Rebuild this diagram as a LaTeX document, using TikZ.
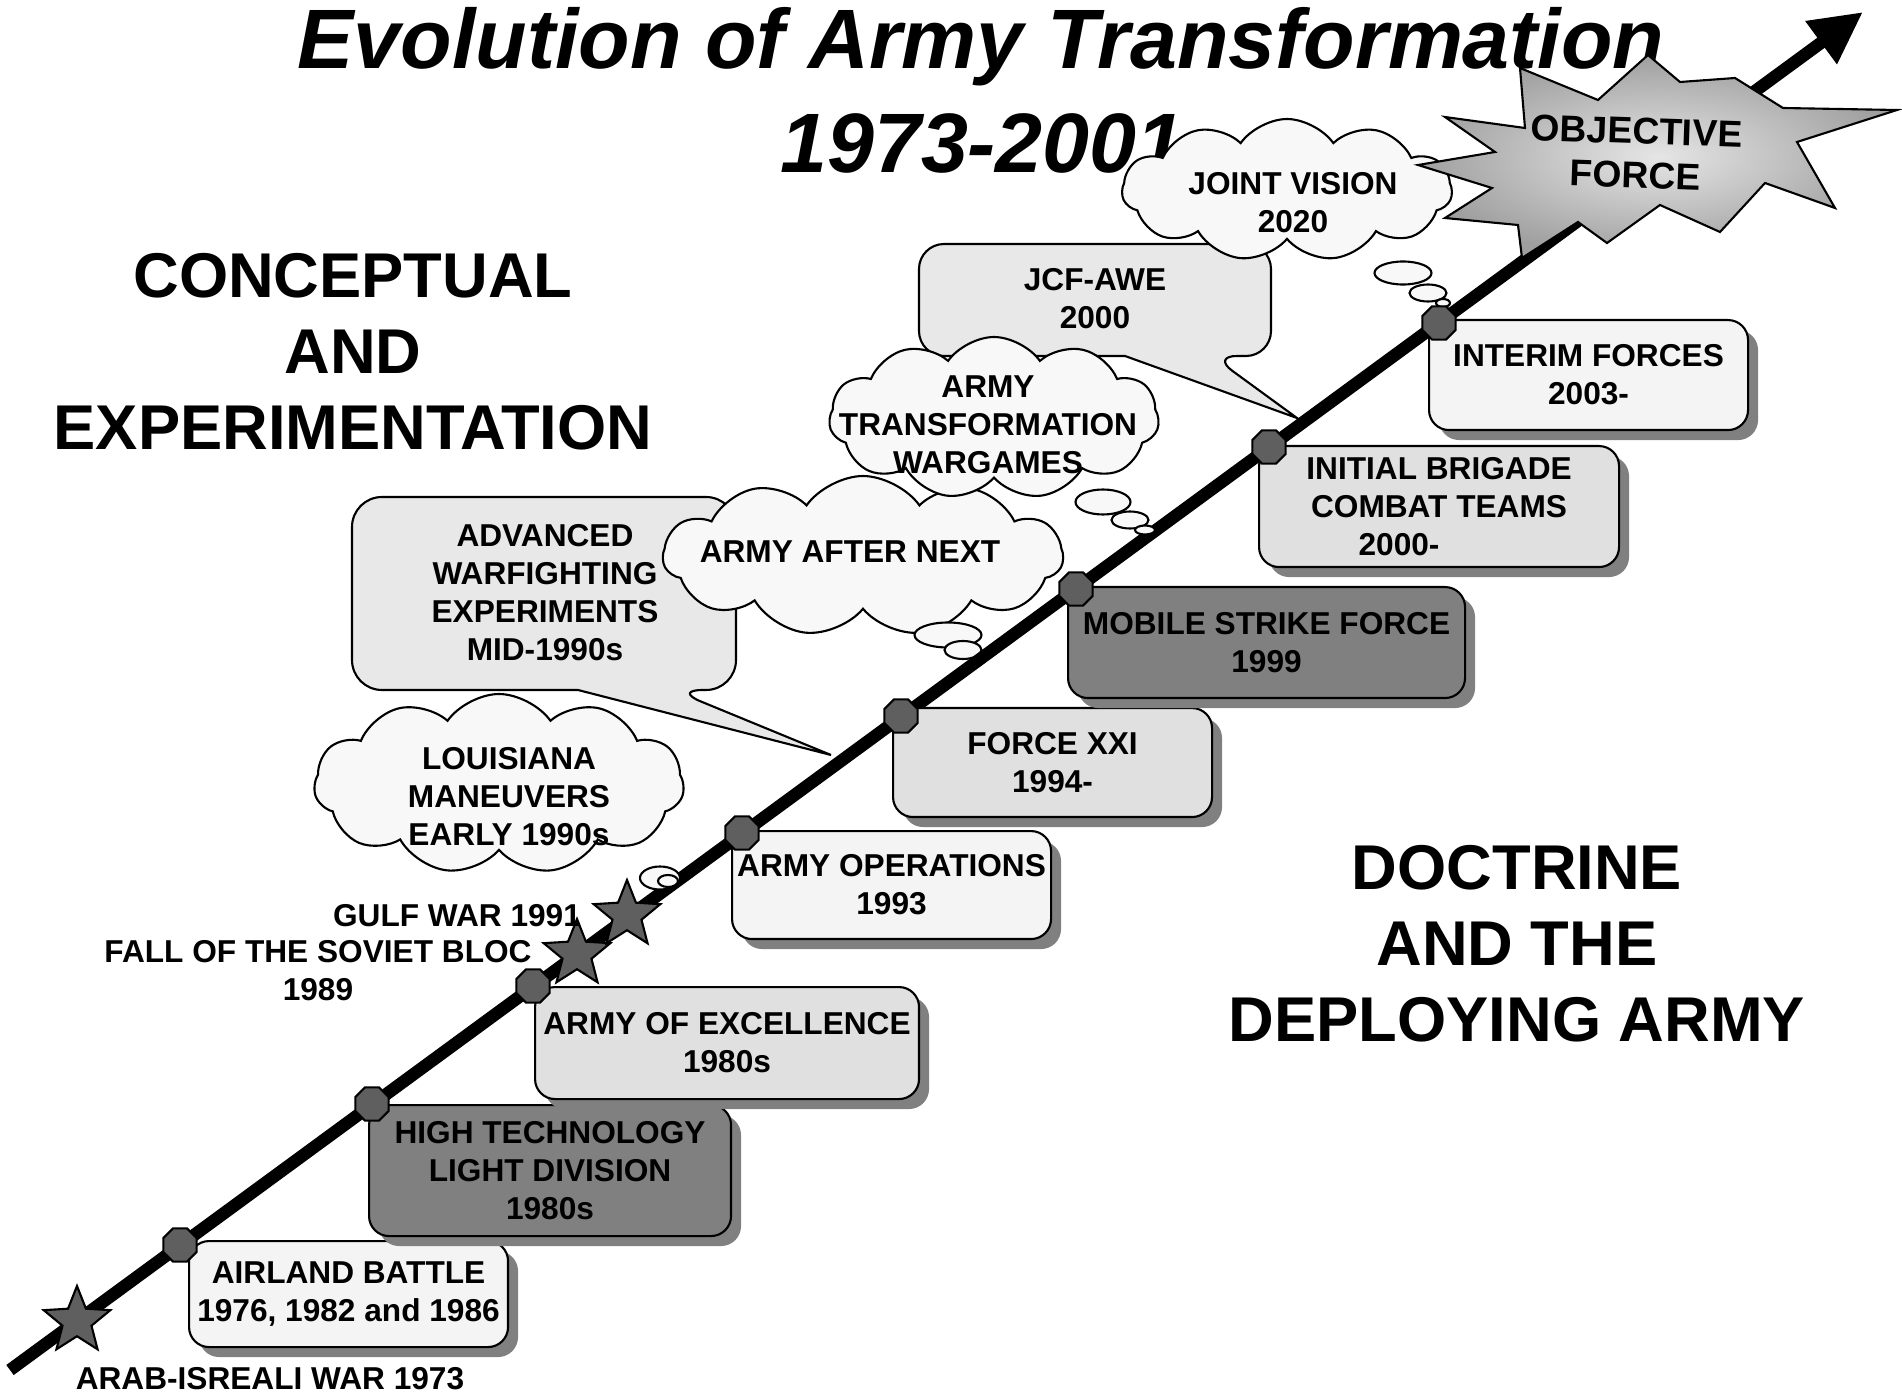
\documentclass[tikz,border=0pt]{standalone}
\usepackage{fontspec}
\setmainfont{Liberation Sans}
\usetikzlibrary{
  calc,shapes.symbols,shapes.geometric,shadows,
  arrows.meta
}
\definecolor{boxlight}{HTML}{F4F4F4}
\definecolor{boxmid}{HTML}{E0E0E0}
\definecolor{boxdark}{HTML}{808080}
\definecolor{shadowgray}{HTML}{808080}
\definecolor{cloudfill}{HTML}{F8F8F8}
\definecolor{calloutfill}{HTML}{E8E8E8}
\definecolor{markgray}{HTML}{5F5F5F}

\begin{document}
\begin{tikzpicture}[x=0.1mm,y=-0.1mm,
  eventbox/.style={draw=black,line width=0.6pt,rounded corners=2mm,anchor=north west,align=center,inner sep=0pt,
    font=\fontsize{9}{10.8}\selectfont\bfseries,
    drop shadow={shadow xshift=1mm,shadow yshift=-1mm,fill=shadowgray,opacity=1}},
  milestone/.style={draw=black,line width=0.6pt,fill=markgray,regular polygon,regular polygon sides=8,minimum size=3.6mm,inner sep=0pt},
  warstar/.style={draw=black,line width=0.6pt,fill=markgray,star,star points=5,star point ratio=2.3,minimum size=7mm,inner sep=0pt},
  thought/.style={draw=black,line width=0.6pt,fill=cloudfill,cloud,cloud puffs=11,cloud puff arc=110,cloud ignores aspect,inner sep=0pt},
  puff/.style={draw=black,line width=0.6pt,fill=cloudfill,ellipse,inner sep=0pt},
  callout/.style={draw=black,line width=0.6pt,fill=calloutfill},
  smalltext/.style={align=center,inner sep=0pt,font=\fontsize{9}{10.8}\selectfont\bfseries},
  bigtext/.style={align=center,inner sep=0pt,font=\fontsize{18}{21.6}\selectfont\bfseries},
  titletext/.style={anchor=base,inner sep=0pt,font=\fontsize{24}{28}\selectfont\bfseries\itshape}
]
\fill[white] (0,0) rectangle (1902,1396);
\useasboundingbox (0,0) rectangle (1902,1396);

\node[titletext] (title) at (981,69) {Evolution of Army Transformation};
\node[titletext] (years) at (982,173) {1973-2001};
\node[bigtext] (conceptual) at (353,352) {CONCEPTUAL\\AND\\EXPERIMENTATION};
\node[bigtext] (doctrine) at (1517,944) {DOCTRINE\\AND THE\\DEPLOYING ARMY};

\coordinate (advtip) at (831,755);
\coordinate (jcftip) at (1297,418);
\filldraw[callout] (352,600) [rounded corners=3mm] -- (352,497) -- (736,497) -- (736,690) -- (673,690) [sharp corners] -- (advtip) -- (578,690) [rounded corners=3mm] -- (352,690) -- cycle;
\node[smalltext] (advexp) at (545,593) {ADVANCED\\WARFIGHTING\\EXPERIMENTS\\MID-1990s};
\filldraw[callout] (919,300) [rounded corners=2.5mm] -- (919,244) -- (1271,244) -- (1271,356) -- (1212,356) [sharp corners] -- (jcftip) -- (1125,356) [rounded corners=2.5mm] -- (919,356) -- cycle;
\node[smalltext] (jcfawe) at (1095,299) {JCF-AWE\\2000};

\node[thought,minimum width=37mm,minimum height=18mm] (louisiana) at (499,784) {};
\node[smalltext] (louisianatext) at (509,797) {LOUISIANA\\MANEUVERS\\EARLY 1990s};
\node[thought,minimum width=40mm,minimum height=16mm] (aan) at (863,556) {};
\node[smalltext] (aantext) at (850,552) {ARMY AFTER NEXT};
\node[puff,minimum width=6.7mm,minimum height=2.5mm] (aanb1) at (948,635) {};
\node[puff,minimum width=3.7mm,minimum height=1.8mm] (aanb2) at (963,650) {};
\node[thought,minimum width=33mm,minimum height=16.2mm] (atw) at (994,418) {};
\node[smalltext] (atwtext) at (988,425) {ARMY\\TRANSFORMATION\\WARGAMES};
\node[thought,minimum width=33mm,minimum height=14.2mm] (jv) at (1287,190) {};
\node[smalltext] (jvtext) at (1293,203) {JOINT VISION\\2020};

\coordinate (lineStart) at (10,1370);
\coordinate (lineEnd) at (1863,12);
\draw[line width=1.25mm,-{Triangle[length=5.2mm,width=5mm]}] (lineStart) -- (lineEnd);

\node[puff,minimum width=4mm,minimum height=2.3mm] (loub1) at (660,878) {};
\node[puff,minimum width=2mm,minimum height=1.2mm] (loub2) at (668,881) {};
\node[puff,minimum width=5.5mm,minimum height=2.5mm] (atwb1) at (1103,502) {};
\node[puff,minimum width=3.7mm,minimum height=1.7mm] (atwb2) at (1130,520) {};
\node[puff,minimum width=2mm,minimum height=0.9mm] (atwb3) at (1145,530) {};
\node[puff,minimum width=5.7mm,minimum height=2.3mm] (jvb1) at (1403,273) {};
\node[puff,minimum width=3.7mm,minimum height=1.7mm] (jvb2) at (1428,293) {};
\node[puff,minimum width=1.4mm,minimum height=0.8mm] (jvb3) at (1443,303) {};

\node[eventbox,fill=boxlight,minimum width=31.9mm,minimum height=10.6mm] (airland) at (188,1240) {AIRLAND BATTLE\\1976, 1982 and 1986};
\node[eventbox,fill=boxdark,minimum width=36.2mm,minimum height=13.1mm] (hitech) at (368,1104) {HIGH TECHNOLOGY\\LIGHT DIVISION\\1980s};
\node[eventbox,fill=boxmid,minimum width=38.4mm,minimum height=11.2mm] (aoe) at (534,986) {ARMY OF EXCELLENCE\\1980s};
\node[eventbox,fill=boxlight,minimum width=31.9mm,minimum height=10.8mm] (armyops) at (731,830) {ARMY OPERATIONS\\1993};
\node[eventbox,fill=boxmid,minimum width=31.9mm,minimum height=10.9mm] (forcexxi) at (892,707) {FORCE XXI\\1994-};
\node[eventbox,fill=boxdark,minimum width=39.7mm,minimum height=11.1mm] (mobile) at (1067,586) {MOBILE STRIKE FORCE\\1999};
\node[eventbox,fill=boxmid,minimum width=36mm,minimum height=12.1mm] (ibct) at (1258,445) {INITIAL BRIGADE\\COMBAT TEAMS\\2000-\hspace*{8mm}};
\node[eventbox,fill=boxlight,minimum width=31.9mm,minimum height=11mm] (interim) at (1428,319) {INTERIM FORCES\\2003-};

\node[milestone] (m1) at (180,1245) {};
\node[milestone] (m2) at (372,1104) {};
\node[milestone] (m3) at (533,986) {};
\node[milestone] (m4) at (742,833) {};
\node[milestone] (m5) at (901,716) {};
\node[milestone] (m6) at (1076,589) {};
\node[milestone] (m7) at (1269,447) {};
\node[milestone] (m8) at (1439,323) {};

\node[warstar] (s1973) at (77,1321) {};
\node[warstar] (s1989) at (577,954) {};
\node[warstar] (s1991) at (627,915) {};

\node[smalltext] (arabwar) at (270,1379) {ARAB-ISREALI WAR 1973};
\node[smalltext] (gulfwar) at (457,916) {GULF WAR 1991};
\node[smalltext] (sovietbloc) at (318,971) {FALL OF THE SOVIET BLOC\\1989};

\shade[draw=black,line width=0.6pt,inner color=gray!20,outer color=gray!75] (1445,117) -- (1525,128) -- (1520,68) -- (1598,100) -- (1648,55) -- (1680,82) -- (1735,78) -- (1783,108) -- (1897,110) -- (1797,142) -- (1835,208) -- (1765,183) -- (1720,232) -- (1660,205) -- (1607,243) -- (1578,222) -- (1522,258) -- (1518,225) -- (1445,218) -- (1492,188) -- (1418,165) -- (1495,152) -- cycle;
\node[smalltext,font=\fontsize{10.6}{12.5}\selectfont\bfseries,rotate=-2] (objforce) at (1636,153) {OBJECTIVE\\FORCE};
\end{tikzpicture}
\end{document}
